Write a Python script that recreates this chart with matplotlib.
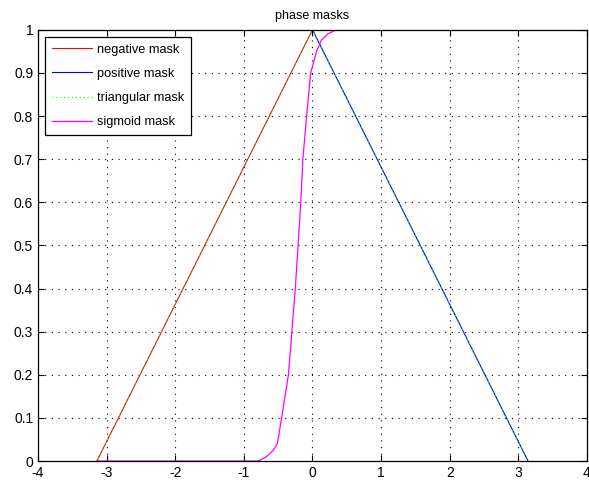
import numpy as np
import matplotlib.pyplot as plt
from matplotlib.ticker import FormatStrFormatter

# phase axis points for the straight masks
neg_x = [-3.1416, 0.0]
neg_y = [0.0, 1.0]
pos_x = [0.0, 3.1416]
pos_y = [1.0, 0.0]
tri_x = [-3.1416, 0.0, 3.1416]
tri_y = [0.0, 1.0, 0.0]

# sigmoid mask
sig_x = [-3.1416, -0.79, -0.67, -0.57, -0.51, -0.45, -0.35, -0.30, -0.25,
         -0.21, -0.17, -0.14, -0.085, -0.026, 0.06, 0.13, 0.23, 0.35, 3.1416]
sig_y = [0.0, 0.0, 0.01, 0.025, 0.041, 0.1, 0.2, 0.3, 0.4,
         0.5, 0.6, 0.7, 0.8, 0.9, 0.95, 0.976, 0.991, 1.0, 1.0]

xticks = [-4, -3, -2, -1, 0, 1, 2, 3, 4]
yticks = [0, 0.1, 0.2, 0.3, 0.4, 0.5, 0.6, 0.7, 0.8, 0.9, 1]

plt.rcParams['font.family'] = ['Liberation Sans', 'DejaVu Sans']
plt.rcParams['axes.unicode_minus'] = False

fig = plt.figure(figsize=(5.89, 4.84), dpi=100)
ax = fig.add_axes([0.0645, 0.0475, 0.932, 0.891])

ax.plot(neg_x, neg_y, color='#ff0000', lw=0.8, label='negative mask')
ax.plot(pos_x, pos_y, color='#0000ff', lw=0.8, label='positive mask')
ax.plot(tri_x, tri_y, color='#00ff00', lw=0.8, ls=(0, (1, 2.5)),
        label='triangular mask')
ax.plot(sig_x, sig_y, color='#ff00ff', lw=0.9, label='sigmoid mask')

ax.set_xlim(-4, 4)
ax.set_ylim(0, 1)
ax.set_xticks(xticks)
ax.set_yticks(yticks)
ax.yaxis.set_major_formatter(FormatStrFormatter('%g'))
ax.grid(True, color='k', ls=(0, (1, 5)), lw=0.8)
ax.tick_params(direction='in', top=True, right=True, length=4,
               labelsize=10, width=0.8)
for s in ax.spines.values():
    s.set_linewidth(0.9)
ax.set_title('phase masks', fontsize=9, pad=8)

leg = ax.legend(loc='upper left', fontsize=9.2, handlelength=3.1,
                fancybox=False, edgecolor='k', framealpha=1,
                borderaxespad=0.55, labelspacing=0.95, handletextpad=0.4,
                borderpad=0.55)
leg.get_frame().set_linewidth(0.9)

fig.savefig('out.png', dpi=100)
